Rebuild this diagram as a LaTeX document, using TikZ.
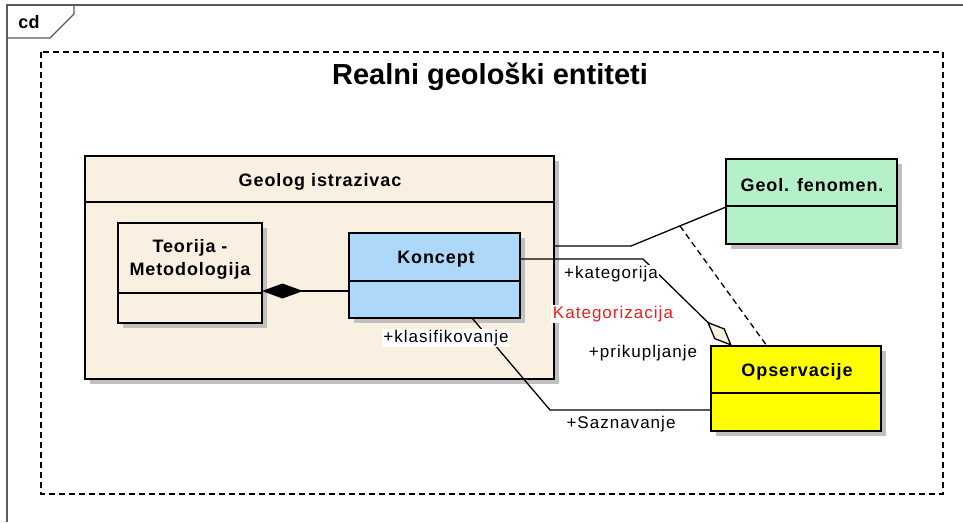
\documentclass[tikz,border=0pt]{standalone}
\usepackage{fontspec}
\setmainfont{Liberation Sans}
\newfontfamily\clsfont{Liberation Sans}[LetterSpace=5]
\newfontfamily\rolefont{Liberation Sans}[LetterSpace=6]
\usetikzlibrary{arrows.meta,shadows}
\definecolor{beigec}{RGB}{250,240,226}
\definecolor{bluec}{RGB}{173,216,250}
\definecolor{greenc}{RGB}{180,240,200}
\definecolor{yellowc}{RGB}{255,255,0}
\definecolor{shadowc}{RGB}{192,192,192}
\definecolor{framec}{RGB}{90,90,90}
\definecolor{redc}{RGB}{240,30,30}
\begin{document}
\begin{tikzpicture}[x=1pt,y=-1pt,
 classbox/.style={draw=black, line width=1.5pt, anchor=north west, inner sep=0pt, outer sep=0pt,
   drop shadow={shadow xshift=5pt, shadow yshift=-5pt, fill=shadowc, opacity=1}},
 divider/.style={line width=1.5pt},
 clsname/.style={font=\clsfont\bfseries\fontsize{18}{23}\selectfont, align=center, inner sep=0pt},
 role/.style={font=\rolefont\fontsize{17}{20}\selectfont, inner sep=1.5pt},
 conn/.style={line width=1.3pt},
]
\useasboundingbox (0,0) rectangle (963,522);
% frame
\draw[framec, line width=1.3pt] (7,522) -- (7,5) -- (963,5);
\draw[framec, line width=1.3pt] (7,38) -- (50,38) -- (74,14) -- (74,5);
\node[font=\bfseries\fontsize{18}{20}\selectfont] (cd) at (29,22) {cd};
% boundary
\draw[line width=1.3pt, dash pattern=on 6pt off 4pt] (41,52) rectangle (943,494);
\node[font=\bfseries\fontsize{29}{32}\selectfont] (title) at (490,77) {Realni geološki entiteti};

% Geolog istrazivac
\node[classbox, fill=beigec, minimum width=469pt, minimum height=223pt] (geolog) at (85,156) {};
\draw[divider] (geolog.west |- 0,202) -- (geolog.east |- 0,202);
\node[clsname] (geologt) at (320,182) {Geolog istrazivac};

% Teorija
\node[classbox, fill=beigec, minimum width=144pt, minimum height=100pt] (teorija) at (118,223) {};
\draw[divider] (teorija.west |- 0,293) -- (teorija.east |- 0,293);
\node[clsname] (teorijat) at (190,259) {Teorija -\\Metodologija};

% Koncept
\node[classbox, fill=bluec, minimum width=171pt, minimum height=85pt] (koncept) at (349,233) {};
\draw[divider] (koncept.west |- 0,281) -- (koncept.east |- 0,281);
\node[clsname] (konceptt) at (436,259) {Koncept};

% Geol. fenomen.
\node[classbox, fill=greenc, minimum width=171pt, minimum height=85pt] (fenomen) at (726,159) {};
\draw[divider] (fenomen.west |- 0,206) -- (fenomen.east |- 0,206);
\node[clsname] (fenoment) at (812,185) {Geol. fenomen.};

% Opservacije
\node[classbox, fill=yellowc, minimum width=170pt, minimum height=85pt] (opserv) at (711,346) {};
\draw[divider] (opserv.west |- 0,393) -- (opserv.east |- 0,393);
\node[clsname] (opservt) at (797,372) {Opservacije};

% connectors
\draw[conn, -{Diamond[length=41pt, width=15pt, fill=black]}] (koncept.west |- 0,291) -- (teorija.east |- 0,291);
\coordinate (bendA) at (631,246);
\draw[conn] (geolog.east |- 0,246) -- (bendA) -- (fenomen.west |- 0,207);
\coordinate (assoc) at (680,226);
\draw[conn, dash pattern=on 6pt off 4pt] (assoc) -- (opserv.north -| 767,0);
\coordinate (bendB) at (643,259);
\draw[conn, -{Diamond[length=35pt, width=15pt, fill=beigec]}] (koncept.east |- 0,259) -- (bendB) -- (opserv.north -| 732,0);
\coordinate (bendC) at (550,410);
\draw[conn] (koncept.south -| 472,0) -- (bendC) -- (opserv.west |- 0,410);

% labels
\node[role, fill=white] (lkat) at (611,274) {+kategorija};
\node[role, fill=white, text=redc] (lkatz) at (613,314) {Kategorizacija};
\node[role] (lprik) at (643,353) {+prikupljanje};
\node[role, fill=white] (lklas) at (446,338) {+klasifikovanje};
\node[role] (lsazn) at (621,424) {+Saznavanje};
\end{tikzpicture}
\end{document}
